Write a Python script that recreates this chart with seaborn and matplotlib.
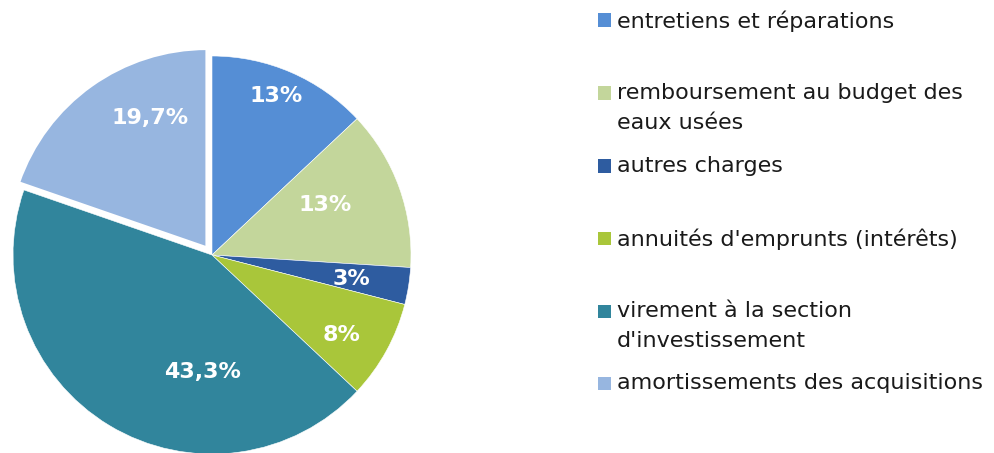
import matplotlib
matplotlib.use("Agg")
import matplotlib.pyplot as plt
import seaborn as sns
from matplotlib.patches import Rectangle

# data
categories = [
    "entretiens et réparations",
    "remboursement au budget des\neaux usées",
    "autres charges",
    "annuités d'emprunts (intérêts)",
    "virement à la section\nd'investissement",
    "amortissements des acquisitions",
]
shares = [13.0, 13.0, 3.0, 8.0, 43.3, 19.7]
share_labels = ["13%", "13%", "3%", "8%", "43,3%", "19,7%"]
colors = ["#558ED5", "#C3D69B", "#2E5CA0", "#A9C63A", "#31859C", "#97B6E0"]

# label placement inside the pie (radius = 1)
label_pos = [(0.32, 0.80), (0.57, 0.25), (0.70, -0.12), (0.65, -0.40), (-0.05, -0.59), (-0.31, 0.69)]

sns.set_theme(style="white")
plt.rcParams["font.family"] = ["DejaVu Sans"]
palette = sns.color_palette(colors)

W, H = 994, 453
fig = plt.figure(figsize=(W / 100, H / 100), dpi=100)

# pie axes: center at (212, 255) px, radius 199 px
R = 199
cx, cy = 212, 255
span = 1.1
side = 2 * span * R
ax = fig.add_axes([(cx - side / 2) / W, (H - cy - side / 2) / H, side / W, side / H])

wedges, _ = ax.pie(
    shares,
    colors=palette,
    startangle=90,
    counterclock=False,
    explode=[0, 0, 0, 0, 0, 0.045],
    wedgeprops=dict(edgecolor="white", linewidth=0.4),
)
wedges[-1].set_linewidth(2.0)
for (x, y), lab in zip(label_pos, share_labels):
    ax.text(x, y, lab, ha="center", va="center", color="white",
            fontsize=16, fontweight="bold")
ax.set_xlim(-span, span)
ax.set_ylim(-span, span)
ax.axis("off")

# legend drawn by hand to follow the original spacing
legend_y = [20, 93, 166, 238, 311, 383]
for lab, col, y in zip(categories, palette, legend_y):
    fig.patches.append(Rectangle((598 / W, 1 - (y + 6.5) / H), 13 / W, 13 / H,
                                 transform=fig.transFigure, color=col, lw=0))
    fig.text(617 / W, 1 - (y - 10) / H, lab, ha="left", va="top",
             fontsize=16, color="#1a1a1a", linespacing=1.62)

fig.savefig("out.png", dpi=100)
